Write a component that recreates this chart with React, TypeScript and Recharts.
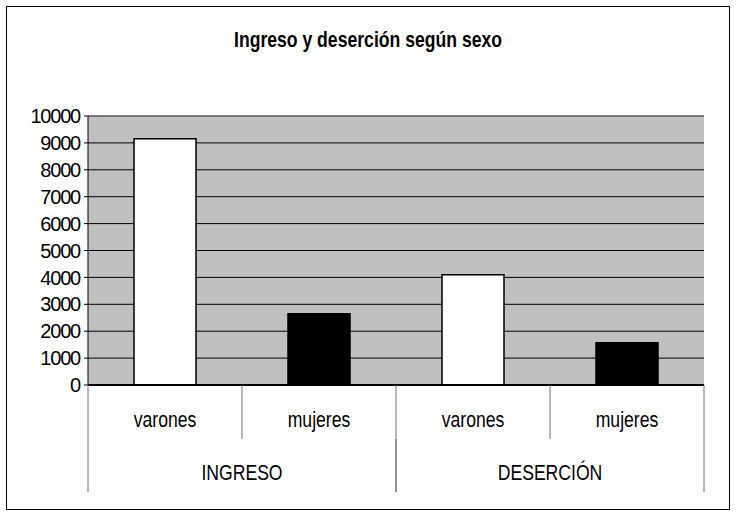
import React from 'react';
import { BarChart, Bar, XAxis, YAxis, CartesianGrid, ReferenceLine, Cell } from 'recharts';

const categorias = ['varones', 'mujeres', 'varones', 'mujeres'];
const grupos = ['INGRESO', 'INGRESO', 'DESERCIÓN', 'DESERCIÓN'];
const valores = [9150, 2650, 4100, 1570];
const yTicks = [0, 1000, 2000, 3000, 4000, 5000, 6000, 7000, 8000, 9000, 10000];
const titulo = 'Ingreso y deserción según sexo';

const data = categorias.map((sexo, i) => ({ sexo, grupo: grupos[i], valor: valores[i] }));

const fillFor = (sexo: string) => (sexo === 'varones' ? '#ffffff' : '#000000');

const sans = '"Liberation Sans", Arial, sans-serif';
const sepColor = '#707070';
// the original uses a condensed face, so squeeze the text horizontally
const squeeze = 0.8;

// axis ids: the first one (alphabetically) sits right under the plot
const SEXO_AXIS = 'a';
const GRUPO_AXIS = 'b';

const SexoTick = (props: any) => {
  const { x, y, payload, index } = props;
  const half = payload.offset || 77;
  const last = index === categorias.length - 1;
  return (
    <g>
      <line x1={x - half} x2={x - half} y1={y} y2={y + 54} stroke={sepColor} />
      {last && <line x1={x + half} x2={x + half} y1={y} y2={y + 54} stroke={sepColor} />}
      <text
        transform={`translate(${x},${y + 42}) scale(${squeeze},1)`}
        textAnchor="middle"
        fontFamily={sans}
        fontSize={22}
        fill="#000"
      >
        {payload.value}
      </text>
    </g>
  );
};

const GrupoTick = (props: any) => {
  const { x, y, payload } = props;
  const half = payload.offset || 154;
  return (
    <g>
      <line x1={x - half} x2={x - half} y1={y} y2={y + 53} stroke={sepColor} />
      <line x1={x + half} x2={x + half} y1={y} y2={y + 53} stroke={sepColor} />
      <text
        transform={`translate(${x},${y + 41}) scale(${squeeze},1)`}
        textAnchor="middle"
        fontFamily={sans}
        fontSize={22}
        fill="#000"
      >
        {payload.value}
      </text>
    </g>
  );
};

export default function App() {
  return (
    <div style={{ position: 'absolute', left: 0, top: 0, width: 736, height: 517, background: '#fff' }}>
      <div
        style={{
          position: 'absolute',
          left: 6,
          top: 6,
          width: 722,
          height: 502,
          border: '1px solid #000',
        }}
      />
      <div
        style={{
          position: 'absolute',
          left: 0,
          top: 28,
          width: 736,
          textAlign: 'center',
          fontFamily: sans,
          fontWeight: 'bold',
          fontSize: 22,
          lineHeight: '24px',
          transform: `scaleX(${squeeze})`,
          transformOrigin: '368px 0',
        }}
      >
        {titulo}
      </div>
      <div style={{ position: 'absolute', left: 0, top: 0 }}>
        <BarChart width={736} height={517} data={data} margin={{ top: 116, right: 32, bottom: 25, left: 0 }}>
          <CartesianGrid vertical={false} stroke="#000" fill="#c0c0c0" fillOpacity={1} xAxisId={SEXO_AXIS} />
          <YAxis
            domain={[0, 10000]}
            ticks={yTicks}
            width={88}
            stroke="#000"
            tickSize={4}
            tickMargin={4}
            interval={0}
            tick={{ fill: '#000', fontSize: 20, fontFamily: sans, letterSpacing: -1.2 }}
          />
          <YAxis yAxisId="r" orientation="right" width={0} domain={[0, 10000]} tick={false} tickLine={false} stroke="#808080" />
          <XAxis
            xAxisId={SEXO_AXIS}
            dataKey="sexo"
            height={54}
            interval={0}
            tickSize={0}
            tickMargin={0}
            tickLine={false}
            stroke="#000"
            strokeWidth={2}
            tick={<SexoTick />}
          />
          <XAxis
            xAxisId={GRUPO_AXIS}
            dataKey="grupo"
            allowDuplicatedCategory={false}
            height={53}
            interval={0}
            tickSize={0}
            tickMargin={0}
            tickLine={false}
            axisLine={false}
            tick={<GrupoTick />}
          />
          <ReferenceLine y={10000} xAxisId={SEXO_AXIS} stroke="#808080" />
          <Bar dataKey="valor" xAxisId={SEXO_AXIS} barSize={62} stroke="#000" strokeWidth={1.5} isAnimationActive={false}>
            {data.map((d, i) => (
              <Cell key={i} fill={fillFor(d.sexo)} />
            ))}
          </Bar>
        </BarChart>
      </div>
    </div>
  );
}
